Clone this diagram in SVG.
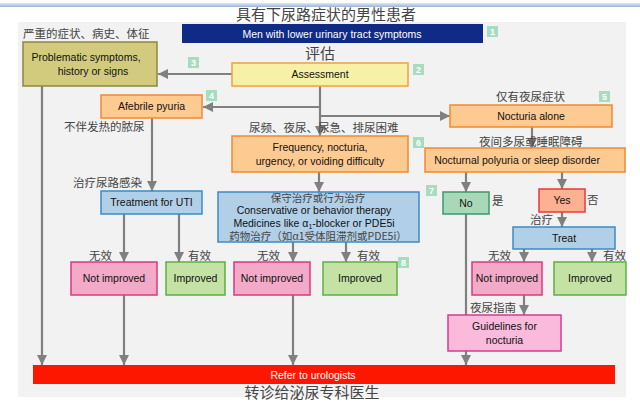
<svg xmlns="http://www.w3.org/2000/svg" width="640" height="407" viewBox="0 0 640 407">
<defs>
<linearGradient id="topline" x1="0" y1="0" x2="0" y2="1">
<stop offset="0" stop-color="#dfe6f2"/><stop offset="1" stop-color="#9fb3d6"/>
</linearGradient>
<marker id="ah" viewBox="0 0 10 10" refX="10" refY="5" markerWidth="10" markerHeight="10" markerUnits="userSpaceOnUse" orient="auto">
<path d="M0,0 L10,5 L0,10 z" fill="#808080"/>
</marker>
</defs>
<style>
.en{font-family:"Liberation Sans",Arial,sans-serif;font-size:10.5px;fill:#111;text-anchor:middle}
.zh{font-family:"Noto Sans CJK SC","Noto Sans CJK JP",sans-serif;font-size:11.5px;fill:#444}
.zhc{text-anchor:middle}
.big{font-size:15px}
.c{stroke:#808080;stroke-width:2.2;fill:none}
.ca{stroke:#808080;stroke-width:2.2;fill:none;marker-end:url(#ah)}
.orange{fill:#fdca92;stroke:#f08a30;stroke-width:1.5}
.blue{fill:#b2cfe8;stroke:#3a8cc4;stroke-width:1.5}
.pink{fill:#f2aac8;stroke:#d83a80;stroke-width:1.5}
.green{fill:#c4e2a4;stroke:#5cb040;stroke-width:1.5}
.badge{fill:#a6dcc0}
.bt{font-family:"Liberation Sans",Arial,sans-serif;font-size:9px;fill:#fff;text-anchor:middle;font-weight:bold}
</style>
<rect x="0" y="0" width="640" height="407" fill="#ffffff"/>
<rect x="0" y="3" width="640" height="4" fill="url(#topline)"/>
<rect x="18" y="22" width="608" height="375" fill="#f2f2f2"/>

<text class="zh zhc big" x="326" y="20">具有下尿路症状的男性患者</text>

<g id="connectors">
<line class="ca" x1="232" y1="74" x2="158" y2="74"/>
<line class="c" x1="320" y1="86" x2="320" y2="116"/>
<line class="ca" x1="320" y1="107" x2="203" y2="107"/>
<line class="ca" x1="320" y1="116" x2="450" y2="116"/>
<line class="ca" x1="320" y1="116" x2="320" y2="136"/>
<line class="ca" x1="42" y1="86" x2="42" y2="365"/>
<line class="ca" x1="152" y1="118" x2="152" y2="191"/>
<line class="ca" x1="319" y1="172" x2="319" y2="192"/>
<line class="ca" x1="532" y1="127" x2="532" y2="148"/>
<line class="ca" x1="466" y1="172" x2="466" y2="192"/>
<line class="ca" x1="562" y1="172" x2="562" y2="189"/>
<line class="ca" x1="562" y1="212" x2="562" y2="227"/>
<line class="ca" x1="124" y1="214" x2="124" y2="262"/>
<line class="ca" x1="179" y1="214" x2="179" y2="262"/>
<line class="ca" x1="293" y1="242" x2="293" y2="262"/>
<line class="ca" x1="346" y1="242" x2="346" y2="262"/>
<line class="ca" x1="524" y1="249" x2="524" y2="262"/>
<line class="ca" x1="592" y1="249" x2="592" y2="262"/>
<line class="ca" x1="124" y1="295" x2="124" y2="365"/>
<line class="ca" x1="293" y1="295" x2="293" y2="365"/>
<line class="ca" x1="466" y1="214" x2="466" y2="365"/>
<line class="ca" x1="524" y1="295" x2="524" y2="315"/>
</g>

<g id="n1">
<rect x="182" y="24" width="301" height="19" fill="#0f2b85"/>
<text class="en" x="332" y="37.5" style="fill:#fff">Men with lower urinary tract symptoms</text>
<rect class="badge" x="487" y="26" width="11" height="11"/><text class="bt" x="492.5" y="35">1</text>
</g>

<g id="n2">
<text class="zh" x="23" y="38">严重的症状、病史、体征</text>
<rect x="23" y="42" width="134" height="44" fill="#d2cb7e" stroke="#8d8742" stroke-width="1.5"/>
<text class="en" x="86" y="61">Problematic symptoms,</text>
<text class="en" x="93" y="75">history or signs</text>
<rect class="badge" x="188" y="57" width="11" height="11"/><text class="bt" x="193.5" y="66">3</text>
</g>

<g id="n3">
<text class="zh zhc big" x="320" y="59">评估</text>
<rect x="232" y="63" width="176" height="23" fill="#f6f1a6" stroke="#f0a040" stroke-width="1.5"/>
<text class="en" x="320" y="78">Assessment</text>
<rect class="badge" x="413" y="64" width="11" height="11"/><text class="bt" x="418.5" y="73">2</text>
</g>

<g id="n4">
<rect class="orange" x="101" y="95" width="101" height="23"/>
<text class="en" x="151.5" y="110">Afebrile pyuria</text>
<rect class="badge" x="206" y="90" width="11" height="11"/><text class="bt" x="211.5" y="99">4</text>
<text class="zh" x="64" y="131">不伴发热的脓尿</text>
<text class="zh" x="73" y="187">治疗尿路感染</text>
</g>

<g id="n5">
<text class="zh" x="496" y="101">仅有夜尿症状</text>
<rect class="badge" x="599" y="91" width="11" height="11"/><text class="bt" x="604.5" y="100">5</text>
<rect class="orange" x="450" y="105" width="162" height="22"/>
<text class="en" x="531" y="120">Nocturia alone</text>
</g>

<g id="n6">
<text class="zh" x="249" y="132">尿频、夜尿、尿急、排尿困难</text>
<rect class="orange" x="232" y="136" width="176" height="36"/>
<text class="en" x="320" y="151">Frequency, nocturia,</text>
<text class="en" x="320" y="165">urgency, or voiding difficulty</text>
<rect class="badge" x="413" y="137" width="11" height="11"/><text class="bt" x="418.5" y="146">6</text>
</g>

<g id="n7">
<text class="zh" x="479" y="146">夜间多尿或睡眠障碍</text>
<rect class="orange" x="425" y="148" width="200" height="24"/>
<text class="en" x="517" y="164">Nocturnal polyuria or sleep disorder</text>
</g>

<g id="n8">
<rect class="blue" x="101" y="191" width="101" height="23"/>
<text class="en" x="151.5" y="206">Treatment for UTI</text>
</g>

<g id="n9">
<rect class="blue" x="218" y="192" width="201" height="50"/>
<text class="zh zhc" x="318" y="202" style="font-size:10.5px">保守治疗或行为治疗</text>
<text class="en" x="314" y="214">Conservative or behavior therapy</text>
<text class="en" x="314" y="227">Medicines like α<tspan font-size="7" dy="1.5">1</tspan><tspan dy="-1.5">-blocker or PDE5i</tspan></text>
<text class="zh zhc" x="318" y="240" style="font-size:10.5px">药物治疗（如α1受体阻滞剂或PDE5i）</text>
<rect class="badge" x="426" y="185" width="11" height="11"/><text class="bt" x="431.5" y="194">7</text>
</g>

<g id="n10">
<rect x="443" y="192" width="46" height="22" fill="#a8d8b8" stroke="#3a9a6a" stroke-width="1.5"/>
<text class="en" x="466" y="207">No</text>
<text class="zh" x="492" y="205">是</text>
</g>

<g id="n11">
<rect x="539" y="189" width="46" height="23" fill="#fcb292" stroke="#e83a3a" stroke-width="1.5"/>
<text class="en" x="562" y="204">Yes</text>
<text class="zh" x="587" y="204">否</text>
<text class="zh" x="530" y="224">治疗</text>
</g>

<g id="n12">
<rect class="blue" x="513" y="227" width="102" height="22"/>
<text class="en" x="564" y="242">Treat</text>
</g>

<g id="n13">
<text class="zh" x="89" y="260">无效</text>
<rect class="pink" x="71" y="262" width="86" height="33"/>
<text class="en" x="114" y="282">Not improved</text>
</g>

<g id="n14">
<text class="zh" x="188" y="260">有效</text>
<rect class="green" x="166" y="262" width="59" height="33"/>
<text class="en" x="195.5" y="282">Improved</text>
</g>

<g id="n15">
<text class="zh" x="257" y="260">无效</text>
<rect class="pink" x="234" y="262" width="76" height="33"/>
<text class="en" x="272" y="282">Not improved</text>
</g>

<g id="n16">
<text class="zh" x="357" y="260">有效</text>
<rect class="green" x="323" y="262" width="74" height="33"/>
<text class="en" x="360" y="282">Improved</text>
<rect class="badge" x="398" y="257" width="11" height="11"/><text class="bt" x="403.5" y="266">8</text>
</g>

<g id="n17">
<text class="zh" x="488" y="260">无效</text>
<rect class="pink" x="472" y="262" width="70" height="33"/>
<text class="en" x="507" y="282">Not improved</text>
</g>

<g id="n18">
<text class="zh" x="603" y="260">有效</text>
<rect class="green" x="554" y="262" width="72" height="33"/>
<text class="en" x="590" y="282">Improved</text>
</g>

<g id="n19">
<text class="zh" x="470" y="312">夜尿指南</text>
<rect x="448" y="315" width="113" height="36" fill="#f9badc" stroke="#d83a90" stroke-width="1.5"/>
<text class="en" x="504.5" y="330">Guidelines for</text>
<text class="en" x="504.5" y="344">nocturia</text>
</g>

<g id="n20">
<rect x="33" y="365" width="582" height="19" fill="#fe1700"/>
<text class="en" x="313" y="378.5" style="fill:#fff">Refer to urologists</text>
<text class="zh zhc big" x="312" y="398">转诊给泌尿专科医生</text>
</g>
</svg>
